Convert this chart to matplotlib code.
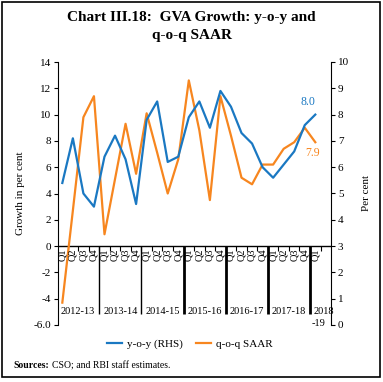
"""
GVA growth: y-o-y (RHS) and q-o-q SAAR, quarterly 2012-13 Q1 to 2018-19 Q1.

Run: python3 plot.py  ->  out.png
"""

import matplotlib
matplotlib.use("Agg")
import matplotlib.pyplot as plt
from matplotlib.patches import Rectangle
import numpy as np

# ── Data ──────────────────────────────────────────────────────────────────────
YEARS = ["2012-13", "2013-14", "2014-15", "2015-16", "2016-17", "2017-18", "2018\n-19"]
QUARTERS = ["Q1", "Q2", "Q3", "Q4"] * 6 + ["Q1"]

# y-o-y growth, per cent (right axis)
yoy = [5.4, 7.1, 5.0, 4.5, 6.4, 7.2, 6.3, 4.6, 7.8, 8.5, 6.2, 6.4,
       7.9, 8.5, 7.5, 8.9, 8.3, 7.3, 6.9, 6.0, 5.6, 6.1, 6.6, 7.6, 8.0]
# q-o-q seasonally adjusted annualised rate, per cent (left axis)
qoq = [-4.3, 2.7, 9.8, 11.4, 0.9, 5.1, 9.3, 5.5, 10.1, 7.1, 4.0, 6.6,
       12.6, 8.8, 3.5, 11.4, 8.4, 5.2, 4.7, 6.2, 6.2, 7.4, 7.9, 9.0, 7.9]

BLUE = "#1a78c2"
ORANGE = "#f7861f"
FONT = "Liberation Serif"

plt.rcParams["font.family"] = FONT

# ── Figure ────────────────────────────────────────────────────────────────────
fig = plt.figure(figsize=(3.83, 3.82), dpi=100)
fig.patches.append(Rectangle((2 / 383, 5 / 382), 378 / 383, 375 / 382,
                             transform=fig.transFigure, fill=False,
                             edgecolor="black", linewidth=1.2))

fig.text(0.5, 1 - 18 / 382, "Chart III.18:  GVA Growth: y-o-y and",
         ha="center", va="center", fontsize=11, fontweight="bold")
fig.text(0.5, 1 - 36 / 382, "q-o-q SAAR",
         ha="center", va="center", fontsize=11, fontweight="bold")

ax = fig.add_axes([58 / 383, 1 - 325 / 382, 273 / 383, 263 / 382])
ax2 = ax.twinx()

x = np.arange(len(qoq))
ax.plot(x, qoq, color=ORANGE, lw=1.6, label="q-o-q SAAR", zorder=3)
ax2.plot(x, yoy, color=BLUE, lw=1.6, label="y-o-y (RHS)", zorder=3)

ax.set_xlim(-0.41, 25.49)
ax.set_ylim(-6, 14)
ax2.set_ylim(0, 10)

# y axes
lticks = np.arange(-6, 15, 2)
ax.set_yticks(lticks)
ax.set_yticklabels(["-6.0" if t == -6 else str(t) for t in lticks], fontsize=8)
ax2.set_yticks(np.arange(0, 11, 1))
ax2.set_yticklabels([str(t) for t in range(11)], fontsize=8)
ax.tick_params(axis="y", direction="out", length=3, width=0.8, pad=2)
ax2.tick_params(axis="y", direction="out", length=3, width=0.8, pad=2)

for a in (ax, ax2):
    a.spines["top"].set_visible(False)
    a.spines["bottom"].set_visible(False)
    a.patch.set_visible(False)
ax.spines["right"].set_visible(False)
ax2.spines["left"].set_visible(False)

# x-axis sits at zero
ax.axhline(0, color="black", lw=1.0, zorder=2)
bounds = np.arange(len(qoq) + 1) - 0.5
ax.vlines(bounds[1:], -0.35, 0, color="black", lw=0.8)
ax.set_xticks([])

for i, q in enumerate(QUARTERS):
    ax.text(i, -0.15, q, rotation=90, ha="center", va="top", fontsize=7.5)

# year separators and labels
for k in range(1, len(YEARS)):
    ax.vlines(4 * k - 0.5, -5.15, 0, color="black", lw=1.0 if k < 3 else 2.0)
for k, yr in enumerate(YEARS[:-1]):
    ax.text(4 * k + 1.5, -4.95, yr, ha="center", va="center", fontsize=7.5)
ax.text(24.85, -4.95, "2018", ha="center", va="center", fontsize=7.5)
ax.text(24.95, -5.85, "-19", ha="right", va="center", fontsize=7.5)

ax.set_ylabel("Growth in per cent", fontsize=8, labelpad=6)
ax2.set_ylabel("Per cent", fontsize=8, labelpad=9)

# end-point labels
ax2.annotate(f"{yoy[-1]:.1f}", (x[-1], yoy[-1]), xytext=(-5, 9),
             textcoords="offset points", ha="center", va="center",
             color=BLUE, fontsize=8.5)
ax.annotate(f"{qoq[-1]:.1f}", (x[-1], qoq[-1]), xytext=(-2, -8),
            textcoords="offset points", ha="center", va="center",
            color=ORANGE, fontsize=8.5)

# legend
h1, l1 = ax2.get_legend_handles_labels()
h2, l2 = ax.get_legend_handles_labels()
fig.legend(h1 + h2, l1 + l2, loc="center", ncol=2, frameon=False,
           bbox_to_anchor=(190 / 383, 1 - 344 / 382), fontsize=8,
           handlelength=1.3, columnspacing=1.2, handletextpad=0.5)

fig.text(13 / 383, 1 - 366 / 382, "Sources:", fontsize=7, fontweight="bold",
         va="center")
fig.text(52 / 383, 1 - 366 / 382, "CSO; and RBI staff estimates.", fontsize=7,
         va="center")

fig.savefig("out.png", dpi=100)
